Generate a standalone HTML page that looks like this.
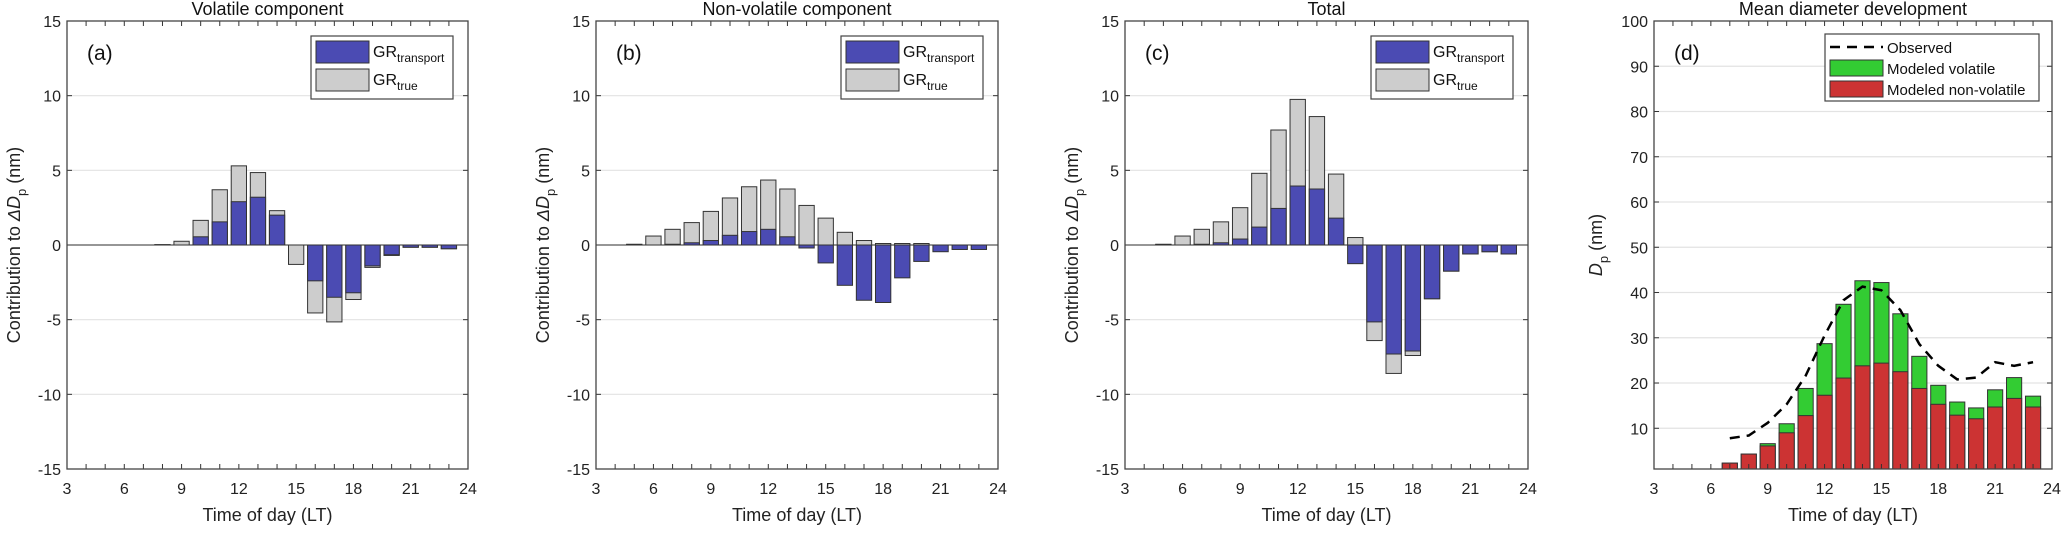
<!DOCTYPE html>
<html><head><meta charset="utf-8"><style>
body{margin:0;background:#fff;}
svg{display:block;font-family:"Liberation Sans",sans-serif;}
</style></head><body>
<svg id="fig" width="2067" height="550" viewBox="0 0 2067 550" xmlns="http://www.w3.org/2000/svg"></svg>
<script>
const hours = [5,6,7,8,9,10,11,12,13,14,15,16,17,18,19,20,21,22,23];
const volTrue = [0,0,0,0.02,0.25,1.65,3.7,5.3,4.85,2.3,-1.3,-4.55,-5.15,-3.65,-1.5,-0.7,-0.15,-0.15,-0.25];
const volTransport = [0,0,0,0.02,0,0.55,1.55,2.9,3.2,2.0,0,-2.4,-3.5,-3.2,-1.4,-0.65,-0.15,-0.15,-0.25];
const nonTrue = [0.05,0.6,1.05,1.5,2.25,3.15,3.9,4.35,3.75,2.65,1.8,0.85,0.3,0.1,0.1,0.1,0,0,0];
const nonTransport = [0.02,0,0.05,0.15,0.3,0.65,0.9,1.05,0.55,-0.2,-1.2,-2.7,-3.7,-3.85,-2.2,-1.1,-0.45,-0.3,-0.3];
const totTrue = [0.05,0.6,1.05,1.55,2.5,4.8,7.7,9.75,8.6,4.75,0.5,-6.4,-8.6,-7.4,-3.6,-1.75,-0.6,-0.45,-0.6];
const totTransport = [0.02,0,0.05,0.15,0.4,1.2,2.45,3.95,3.75,1.8,-1.25,-5.15,-7.3,-7.1,-3.6,-1.75,-0.6,-0.45,-0.6];
const dHours = [7,8,9,10,11,12,13,14,15,16,17,18,19,20,21,22,23];
const dNonVol = [2.3,4.3,6.1,9,12.8,17.3,21.1,23.8,24.4,22.5,18.8,15.3,12.9,12.1,14.7,16.6,14.7];
const dTotal = [2.3,4.3,6.6,11,18.8,28.7,37.4,42.6,42.2,35.3,25.9,19.5,15.8,14.5,18.5,21.2,17.1];
const dObserved = [7.8,8.4,11.2,15.3,21.6,30.5,38.3,41.3,40.5,36.1,28.6,23.8,20.8,21.2,24.6,23.8,24.6];
const xTicks = [3,6,9,12,15,18,21,24];
const yTicksC = [-15,-10,-5,0,5,10,15];
const yTicksD = [10,20,30,40,50,60,70,80,90,100];

const NS="http://www.w3.org/2000/svg";
const svg=document.getElementById('fig');
function el(tag,attrs,parent,text){const e=document.createElementNS(NS,tag);for(const k in attrs)e.setAttribute(k,attrs[k]);if(text!==undefined)e.textContent=text;(parent||svg).appendChild(e);return e;}
const TOP=21,BOT=469;
const BLUE="#4b4bb3",GRAY="#cdcdcd",GREEN="#33cc33",RED="#cc3333",EDGE="#333";

function panel(L,R,ymin,ymax,yTicks,title,tag,ylabelHTML,name){
  const g=el('g',{},svg);
  
  
  const sx=h=>L+(h-3)/(24-3)*(R-L);
  const sy=v=>BOT-(v-ymin)/(ymax-ymin)*(BOT-TOP);
  for(const t of yTicks){ if(t===ymin||t===ymax) continue;
    const gl=el('line',{x1:L,x2:R,y1:sy(t),y2:sy(t),stroke:'#e3e3e3','stroke-width':1.2},g);
    
    
  }
  return {g,sx,sy,L,R,ymin,ymax,yTicks,title,tag,ylabelHTML};
}
function frame(p,ylabX){
  const {g,sx,sy,L,R}=p;
  for(let h=3;h<=24;h++){
    el('line',{x1:sx(h),x2:sx(h),y1:BOT,y2:BOT-5,stroke:'#333','stroke-width':1},g);
    el('line',{x1:sx(h),x2:sx(h),y1:TOP,y2:TOP+5,stroke:'#333','stroke-width':1},g);
  }
  for(const t of p.yTicks){
    el('line',{x1:L,x2:L+5,y1:sy(t),y2:sy(t),stroke:'#333'},g);
    el('line',{x1:R,x2:R-5,y1:sy(t),y2:sy(t),stroke:'#333'},g);
    const tl=el('text',{x:L-6,y:sy(t)+6,'text-anchor':'end','font-size':16,fill:'#222'},g,String(t));
    
    
  }
  for(const t of xTicks){
    const tl=el('text',{x:sx(t),y:494,'text-anchor':'middle','font-size':16,fill:'#222'},g,String(t));
    
    
  }
  const ax=el('rect',{x:L,y:TOP,width:R-L,height:BOT-TOP,fill:'none',stroke:'#444','stroke-width':1.3},g);
  
  
  const xt=el('text',{x:(L+R)/2,y:521,'text-anchor':'middle','font-size':18,fill:'#222'},g,'Time of day (LT)');
  
  
  const tt=el('text',{x:(L+R)/2,y:15,'text-anchor':'middle','font-size':18,fill:'#111'},g,p.title);
  
  
  const tg=el('text',{x:L+20,y:60,'font-size':21,fill:'#111'},g,p.tag);
  
  
  const yl=el('text',{transform:`translate(${ylabX},${(TOP+BOT)/2}) rotate(-90)`,'text-anchor':'middle','font-size':18,fill:'#222'},g);
  
  
  yl.innerHTML=p.ylabelHTML;
}
function grPanel(L,R,tru,tra,title,tag,name,ylabX){
  const p=panel(L,R,-15,15,yTicksC,title,tag,'Contribution to <tspan font-style="italic">\u0394D</tspan><tspan font-size="13" dy="6">p</tspan><tspan dy="-6"> (nm)</tspan>',name);
  const {g,sx,sy}=p;
  const bw=0.8*(R-L)/21;
  hours.forEach((h,i)=>{
    const v=tru[i];
    const r=el('rect',{x:sx(h)-bw/2,y:Math.min(sy(0),sy(v)),width:bw,height:Math.abs(sy(v)-sy(0)),fill:GRAY,stroke:EDGE,'stroke-width':1},g);
    
    
  });
  hours.forEach((h,i)=>{
    const v=tra[i];
    const r=el('rect',{x:sx(h)-bw/2,y:Math.min(sy(0),sy(v)),width:bw,height:Math.abs(sy(v)-sy(0)),fill:BLUE,stroke:EDGE,'stroke-width':1},g);
    
    
  });
  el('line',{x1:L,x2:R,y1:sy(0),y2:sy(0),stroke:'#333','stroke-width':1},g);
  const lx=R-157,ly=36;
  const lg=el('g',{},g);
  
  
  el('rect',{x:lx,y:ly,width:142,height:63,fill:'#fff',stroke:'#444','stroke-width':1.2},lg);
  el('rect',{x:lx+5,y:ly+5,width:53,height:22,fill:BLUE,stroke:EDGE},lg);
  el('rect',{x:lx+5,y:ly+33,width:53,height:22,fill:GRAY,stroke:EDGE},lg);
  const t1=el('text',{x:lx+62,y:ly+21,'font-size':16,fill:'#111'},lg);
  t1.innerHTML='GR<tspan font-size="12" dy="5">transport</tspan>';
  
  
  const t2=el('text',{x:lx+62,y:ly+49,'font-size':16,fill:'#111'},lg);
  t2.innerHTML='GR<tspan font-size="12" dy="5">true</tspan>';
  
  
  frame(p,ylabX);
}
grPanel(67,468,volTrue,volTransport,'Volatile component','(a)','panel-volatile',20);
grPanel(596,998,nonTrue,nonTransport,'Non-volatile component','(b)','panel-non-volatile',549);
grPanel(1125,1528,totTrue,totTransport,'Total','(c)','panel-total',1078);

(function(){
  const L=1654,R=2052;
  const p=panel(L,R,1,100,yTicksD,'Mean diameter development','(d)','<tspan font-style="italic">D</tspan><tspan font-size="13" dy="6">p</tspan><tspan dy="-6"> (nm)</tspan>','panel-mean-diameter');
  const {g,sx,sy}=p;
  const bw=0.8*(R-L)/21;
  const base=sy(1);
  dHours.forEach((h,i)=>{
    const r1=el('rect',{x:sx(h)-bw/2,y:sy(dTotal[i]),width:bw,height:base-sy(dTotal[i]),fill:GREEN,stroke:EDGE},g);
    
    
    const r2=el('rect',{x:sx(h)-bw/2,y:sy(dNonVol[i]),width:bw,height:base-sy(dNonVol[i]),fill:RED,stroke:EDGE},g);
    
    
  });
  const pts=dHours.map((h,i)=>sx(h)+','+sy(dObserved[i])).join(' ');
  const ln=el('polyline',{points:pts,fill:'none',stroke:'#000','stroke-width':2.5,'stroke-dasharray':'10,7'},g);
  
  
  const lx=1825,ly=34;
  const lg=el('g',{},g);
  
  
  el('rect',{x:lx,y:ly,width:214,height:67,fill:'#fff',stroke:'#444','stroke-width':1.2},lg);
  el('line',{x1:lx+5,x2:lx+58,y1:ly+13,y2:ly+13,stroke:'#000','stroke-width':2.5,'stroke-dasharray':'10,7'},lg);
  el('rect',{x:lx+5,y:ly+26,width:53,height:16,fill:GREEN,stroke:EDGE},lg);
  el('rect',{x:lx+5,y:ly+47,width:53,height:16,fill:RED,stroke:EDGE},lg);
  const labels=['Observed','Modeled volatile','Modeled non-volatile'];
  const names=['legend-entry-observed','legend-entry-volatile','legend-entry-non-volatile'];
  labels.forEach((s,i)=>{
    const t=el('text',{x:lx+62,y:ly+19+i*21,'font-size':15,fill:'#111'},lg,s);
    
    
  });
  frame(p,1602);
})();
</script>
</body></html>
